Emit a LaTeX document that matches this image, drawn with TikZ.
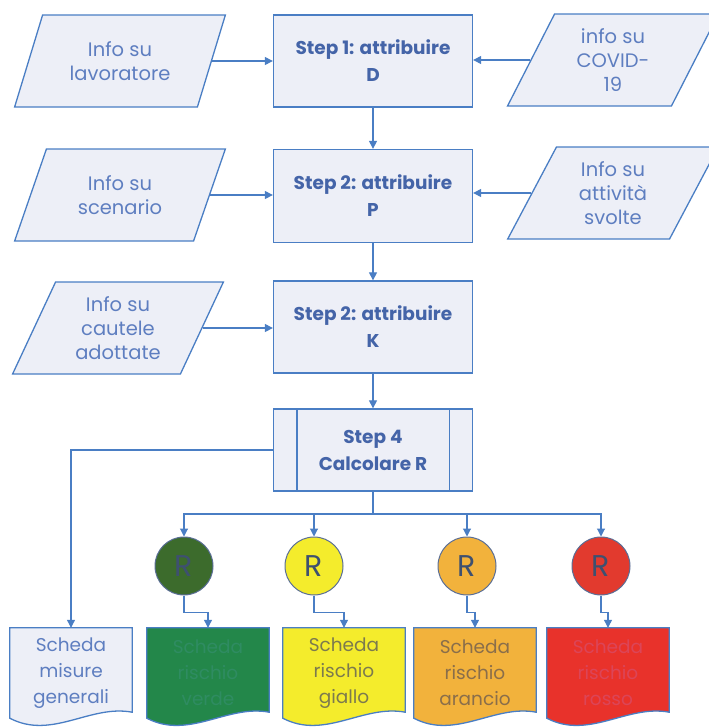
\documentclass[tikz,border=0pt]{standalone}
\usepackage{fontspec}
\setmainfont{Poppins}
\usetikzlibrary{shapes.geometric,arrows.meta,positioning,calc,backgrounds}

\definecolor{lineblue}{HTML}{4A7EC4}
\definecolor{boxfill}{HTML}{EDEFF7}
\definecolor{txtblue}{HTML}{5E7EC0}
\definecolor{boldblue}{HTML}{4464A8}
\definecolor{circline}{HTML}{5A6E96}
\definecolor{rtext}{HTML}{3E5070}
\definecolor{circgreen}{HTML}{3C6B2C}
\definecolor{docgreen}{HTML}{23874A}
\definecolor{txtgreen}{HTML}{2F8C62}
\definecolor{riskyellow}{HTML}{F4EC2C}
\definecolor{txtyellow}{HTML}{7C7A4E}
\definecolor{riskorange}{HTML}{F2B23C}
\definecolor{txtorange}{HTML}{8A6E4A}
\definecolor{circred}{HTML}{E23A2E}
\definecolor{docred}{HTML}{E8322B}
\definecolor{txtred}{HTML}{DC4558}

\begin{document}
\begin{tikzpicture}[
    x=1pt, y=-1pt,
    infobox/.style={trapezium, trapezium left angle=65, trapezium right angle=115,
        trapezium stretches=true, minimum width=211pt, minimum height=92pt,
        draw=lineblue, line width=1.3pt, fill=boxfill, text=txtblue,
        font=\fontsize{19.5}{24}\selectfont, align=center, inner sep=0pt},
    stepbox/.style={rectangle, draw=lineblue, line width=1.3pt, fill=boxfill,
        minimum width=199pt, minimum height=92pt, text=boldblue,
        font=\bfseries\fontsize{18.5}{27}\selectfont, align=center},
    rnode/.style={circle, draw=circline, line width=1pt, minimum size=58pt,
        inner sep=0pt, text=rtext, font=\fontsize{30}{30}\selectfont},
    docbox/.style={rectangle, minimum width=122pt, minimum height=90pt,
        inner sep=0pt, align=center, font=\fontsize{18.5}{26}\selectfont},
    docline/.style={draw=lineblue, line width=1.3pt},
    arrow/.style={-{Triangle[length=8pt,width=8pt]}, draw=lineblue, line width=1.1pt}
]
    \useasboundingbox (0,0) rectangle (709,728);

    % input boxes and steps
    \node[infobox] (lav) at (120,61) {Info su\\lavoratore};
    \node[stepbox] (step1) at (373,61) {Step 1: attribuire\\D};
    \node[infobox] (covid) at (613,60) {info su\\COVID-\\19};

    \node[infobox] (scen) at (120,195) {Info su\\scenario};
    \node[stepbox, minimum height=93pt] (step2) at (373,196) {Step 2: attribuire\\P};
    \node[infobox] (attiv) at (613,193) {Info su\\attività\\svolte};

    \node[infobox] (caut) at (118,328) {Info su\\cautele\\adottate};
    \node[stepbox] (step3) at (373,327) {Step 2: attribuire\\K};

    \node[stepbox, minimum height=82pt] (step4) at (373,450) {Step 4\\Calcolare R};
    \draw[docline] ([xshift=24pt]step4.north west) -- ([xshift=24pt]step4.south west);
    \draw[docline] ([xshift=-24pt]step4.north east) -- ([xshift=-24pt]step4.south east);

    % risk levels
    \node[rnode, fill=circgreen] (rV) at (184,566) {R};
    \node[rnode, fill=riskyellow] (rG) at (314,566) {R};
    \node[rnode, fill=riskorange] (rA) at (467,566) {R};
    \node[rnode, fill=circred] (rR) at (601,566) {R};

    % output sheets
    \node[docbox, text=txtblue] (docM) at (71,673) {Scheda\\misure\\generali};
    \node[docbox, text=txtgreen] (docV) at (208,673) {Scheda\\rischio\\verde};
    \node[docbox, text=txtyellow] (docG) at (344,673) {Scheda\\rischio\\giallo};
    \node[docbox, text=txtorange] (docA) at (475,673) {Scheda\\rischio\\arancio};
    \node[docbox, text=txtred] (docR) at (608,673) {Scheda\\rischio\\rosso};

    \begin{pgfonlayer}{background}
    \foreach \d/\c in {docM/boxfill, docV/docgreen, docG/riskyellow, docA/riskorange, docR/docred}
        \draw[docline, fill=\c] (\d.north west) -- (\d.north east) -- ([yshift=6pt]\d.south east)
            .. controls ([xshift=-42pt,yshift=14pt]\d.south east) and ([xshift=42pt,yshift=-22pt]\d.south west) .. (\d.south west) -- cycle;
    \end{pgfonlayer}

    % connectors
    \draw[arrow] (lav.east) -- (lav.east -| step1.west);
    \draw[arrow] (covid.west) -- (covid.west -| step1.east);
    \draw[arrow] (scen.east) -- (scen.east -| step2.west);
    \draw[arrow] (attiv.west) -- (attiv.west -| step2.east);
    \draw[arrow] (caut.east) -- (caut.east -| step3.west);
    \draw[arrow] (step1) -- (step2);
    \draw[arrow] (step2) -- (step3);
    \draw[arrow] (step3) -- (step4);

    \coordinate (bus) at (373,514);
    \draw[docline, line width=1.1pt] (step4.south) -- (bus);
    \foreach \r in {rV, rG, rA, rR}
        \draw[arrow] (bus) -| (\r.north);
    \draw[arrow] (step4.west) -| (docM.north);

    \draw[arrow] (rV.south) -- ++(0,17) -| (docV.north);
    \draw[arrow] (rG.south) -- ++(0,17) -| (docG.north);
    \draw[arrow] (rA.south) -- ++(0,17) -| (docA.north);
    \draw[arrow] (rR.south) -- ++(0,17) -| (docR.north);
\end{tikzpicture}
\end{document}
